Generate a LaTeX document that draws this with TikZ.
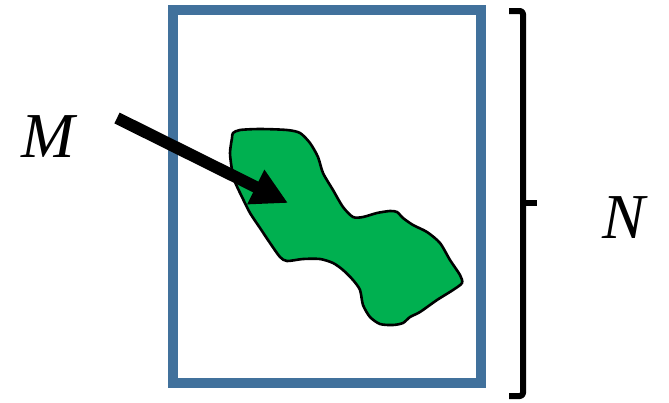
\documentclass[tikz,border=0pt]{standalone}
\usepackage{fontspec}
\setmainfont{Liberation Serif}
\usetikzlibrary{arrows.meta}
\definecolor{frameblue}{RGB}{65,113,156}
\definecolor{blobgreen}{RGB}{0,176,80}
\tikzset{
  lbl/.style={font=\fontsize{64}{64}\selectfont\itshape, inner sep=0pt},
  frame/.style={draw=frameblue, line width=10pt},
  blob/.style={draw=black, fill=blobgreen, line width=2.6pt, line join=round},
  pointer/.style={line width=12pt, -{Triangle[length=36pt,width=36pt]}},
  bracket/.style={line width=6pt, line join=round, rounded corners=3pt}
}
\begin{document}
\begin{tikzpicture}[x=1pt,y=-1pt]
\useasboundingbox (0,0) rectangle (669,402);
\node[frame, minimum width=308pt, minimum height=373pt, inner sep=0pt] (box) at (327,196.5) {};
\draw[blob] plot[smooth cycle, tension=0.45] coordinates {
 (233,133) (240,130) (260,129) (287,130) (300,133) (310,143) (318,157) (323,173)
 (333,190) (343,207) (353,217) (363,217) (377,213) (390,211) (397,212) (403,218)
 (413,225) (427,232) (440,243) (450,260) (460,275) (462,283) (453,290) (437,300)
 (420,312) (410,317) (403,323) (393,325) (380,324) (370,317) (363,305) (360,290)
 (353,280) (343,270) (333,263) (320,259) (303,259) (287,261) (280,257) (270,243)
 (260,228) (250,213) (242,197) (235,182) (232,170) (230,153) (232,138)};
\node[lbl] (M) at (48,137) {M};
\node[lbl] (N) at (624,218) {N};
\coordinate (start) at (117,118);
\coordinate (tip) at (288,203);
\draw[pointer] (start) -- (tip);
\coordinate (b1) at (509,11);
\coordinate (b2) at (523,11);
\coordinate (bm) at (523,203);
\coordinate (bt) at (537,203);
\coordinate (b3) at (523,396);
\coordinate (b4) at (509,396);
\draw[bracket] (b1) -- (b2) -- (b3) -- (b4);
\draw[line width=6pt] (bm) -- (bt);
\end{tikzpicture}
\end{document}
